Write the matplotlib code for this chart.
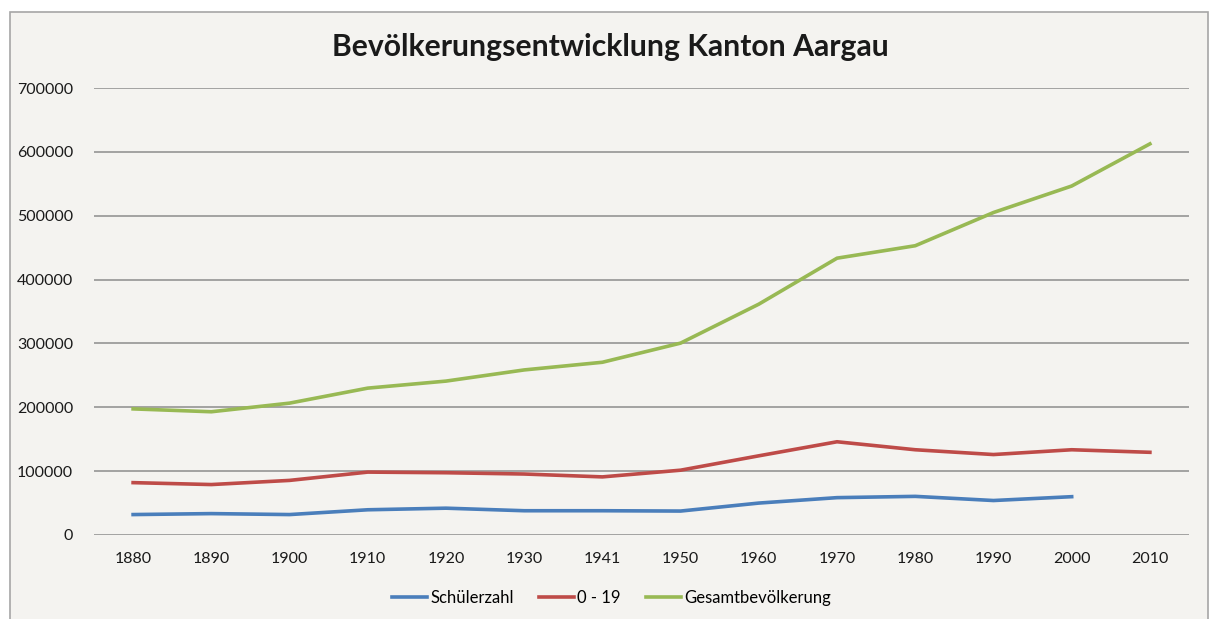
import matplotlib.pyplot as plt
from matplotlib.patches import Rectangle

plt.rcParams["font.family"] = ["Lato", "DejaVu Sans"]

jahre = ["1880", "1890", "1900", "1910", "1920", "1930", "1941",
         "1950", "1960", "1970", "1980", "1990", "2000", "2010"]
schueler = [32000, 33500, 32000, 39500, 42000, 38000, 38000,
            37500, 50000, 58500, 60500, 54000, 60000]
jugend = [82000, 79000, 85500, 98500, 97500, 95500, 91000,
          101500, 124000, 146000, 133500, 126000, 133500, 129500]
gesamt = [197500, 193000, 206500, 230000, 241000, 258500, 270500,
          300500, 361500, 433500, 453000, 505000, 546500, 612500]

BG = "#F4F3F0"
fig = plt.figure(figsize=(12.11, 6.19), dpi=100)
fig.patch.set_facecolor("white")
fig.add_artist(Rectangle((10 / 1211, -0.05), 1198 / 1211, 1 - 12 / 619 + 0.05,
                         transform=fig.transFigure, facecolor=BG,
                         edgecolor="#A6A6A6", linewidth=1.2, zorder=0))

ax = fig.add_axes([94 / 1211, 1 - 535 / 619, (1189 - 94) / 1211, (535 - 88) / 619])
ax.set_facecolor(BG)
ax.patch.set_alpha(0)

x = list(range(len(jahre)))
ax.plot(x[:len(schueler)], schueler, color="#4A7EBB", lw=2.6, label="Schülerzahl")
ax.plot(x, jugend, color="#BE4B48", lw=2.6, label="0 - 19")
ax.plot(x, gesamt, color="#98B954", lw=2.6, label="Gesamtbevölkerung")

ax.set_xlim(-0.5, len(jahre) - 0.5)
ax.set_ylim(0, 700000)
ax.set_yticks(range(0, 700001, 100000))
ax.set_yticklabels([str(v) for v in range(0, 700001, 100000)])
ax.set_xticks(x)
ax.set_xticklabels(jahre)
ax.tick_params(axis="both", length=0, labelsize=11.5, colors="#1A1A1A")
ax.tick_params(axis="y", pad=15)
ax.tick_params(axis="x", pad=12)
ax.grid(axis="y", color="#8C8C8C", linewidth=1.1)
ax.set_axisbelow(True)
for s in ax.spines.values():
    s.set_visible(False)

fig.text(0.504, 1 - 47 / 619, "Bevölkerungsentwicklung Kanton Aargau",
         ha="center", va="center", fontsize=21.7, fontweight="bold", color="#1A1A1A")

fig.legend(loc="center", bbox_to_anchor=(0.505, 1 - 598 / 619), ncol=3, frameon=False,
           fontsize=12, handlelength=2.1, handletextpad=0.2, columnspacing=1.5)

fig.savefig("out.png", dpi=100, facecolor=fig.get_facecolor())
